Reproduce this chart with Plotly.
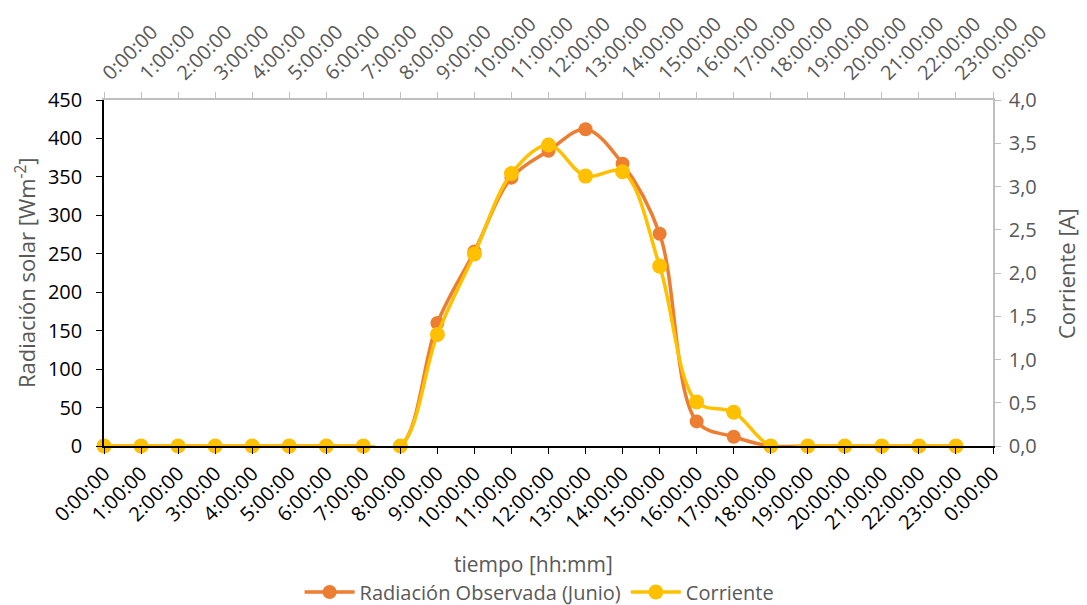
import plotly.graph_objects as go

hours = list(range(24))
tick_hours = list(range(25))
tick_labels = [f"{h}:00:00" for h in range(24)] + ["0:00:00"]

radiacion = [0, 0, 0, 0, 0, 0, 0, 0, 0, 160, 253, 349, 384, 412, 367, 276, 32, 12, 0, 0, 0, 0, 0, 0]
corriente = [0, 0, 0, 0, 0, 0, 0, 0, 0, 1.29, 2.22, 3.15, 3.48, 3.12, 3.17, 2.08, 0.51, 0.39, 0, 0, 0, 0, 0, 0]

ORANGE = "#ED7D31"
YELLOW = "#FFC000"
GRAY = "#595959"
FONT = "Open Sans"
TICK = 20

fig = go.Figure()
fig.add_trace(go.Scatter(
    x=hours, y=radiacion, name="Radiación Observada (Junio)",
    mode="lines+markers", line=dict(color=ORANGE, width=3.5, shape="spline", smoothing=1.0),
    marker=dict(color=ORANGE, size=14), xaxis="x", yaxis="y", cliponaxis=False))
fig.add_trace(go.Scatter(
    x=hours, y=corriente, name="Corriente",
    mode="lines+markers", line=dict(color=YELLOW, width=3.5, shape="spline", smoothing=1.0),
    marker=dict(color=YELLOW, size=15), xaxis="x2", yaxis="y2", cliponaxis=False))

# page has an 8px body margin, so the figure is sized/offset to compensate
fig.update_layout(
    width=1079, height=597,
    margin=dict(l=96, r=94, t=92, b=159, autoexpand=False),
    paper_bgcolor="white", plot_bgcolor="white",
    separators=",.",
    font=dict(family=FONT, size=TICK, color="black"),
    showlegend=True,
    legend=dict(orientation="h", x=0.49, y=0.0218, xref="paper", yref="container",
                xanchor="center", yanchor="middle",
                font=dict(family=FONT, size=20, color=GRAY), itemwidth=50),
    xaxis=dict(range=[0, 24], tickmode="array", tickvals=tick_hours, ticktext=tick_labels,
               tickangle=-45, showgrid=False, zeroline=False, showline=True, automargin=False,
               linecolor="black", linewidth=1.5, ticks="outside", ticklen=6,
               tickcolor="black", tickfont=dict(family=FONT, size=TICK, color="black")),
    xaxis2=dict(range=[0, 24], tickmode="array", tickvals=tick_hours, ticktext=tick_labels,
                tickangle=-45, overlaying="x", side="top", anchor="y", showgrid=False,
                zeroline=False, showline=True, linecolor="#BFBFBF", linewidth=1.5,
                automargin=False, ticks="outside", ticklen=6, tickcolor="#BFBFBF",
                tickfont=dict(family=FONT, size=TICK, color=GRAY)),
    yaxis=dict(range=[0, 450], dtick=50, showgrid=False, zeroline=False, showline=True,
               automargin=False, linecolor="black", linewidth=1.5, ticks="outside", ticklen=6,
               tickcolor="black", ticklabelstandoff=10,
               tickfont=dict(family=FONT, size=TICK, color="black")),
    yaxis2=dict(range=[0, 4], dtick=0.5, tickformat=".1f", overlaying="y", side="right",
                anchor="x", showgrid=False, zeroline=False, showline=True, automargin=False,
                linecolor="#BFBFBF", linewidth=1.5, ticks="outside", ticklen=6,
                tickcolor="#BFBFBF", ticklabelstandoff=4,
                tickfont=dict(family=FONT, size=TICK, color=GRAY)),
    annotations=[
        dict(text="tiempo [hh:mm]", xref="paper", yref="paper", x=0.4826, y=-0.341,
             xanchor="center", yanchor="middle", showarrow=False,
             font=dict(family=FONT, size=21, color=GRAY)),
        dict(text="Radiación solar [Wm<sup>-2</sup>]", xref="paper", yref="paper",
             x=-0.0888, y=0.5, xanchor="center", yanchor="middle", textangle=-90,
             showarrow=False, font=dict(family=FONT, size=22, color=GRAY)),
        dict(text="Corriente [A]", xref="paper", yref="paper",
             x=1.0821, y=0.5, xanchor="center", yanchor="middle", textangle=-90,
             showarrow=False, font=dict(family=FONT, size=22, color=GRAY)),
    ],
)

fig.write_html("out.html")
